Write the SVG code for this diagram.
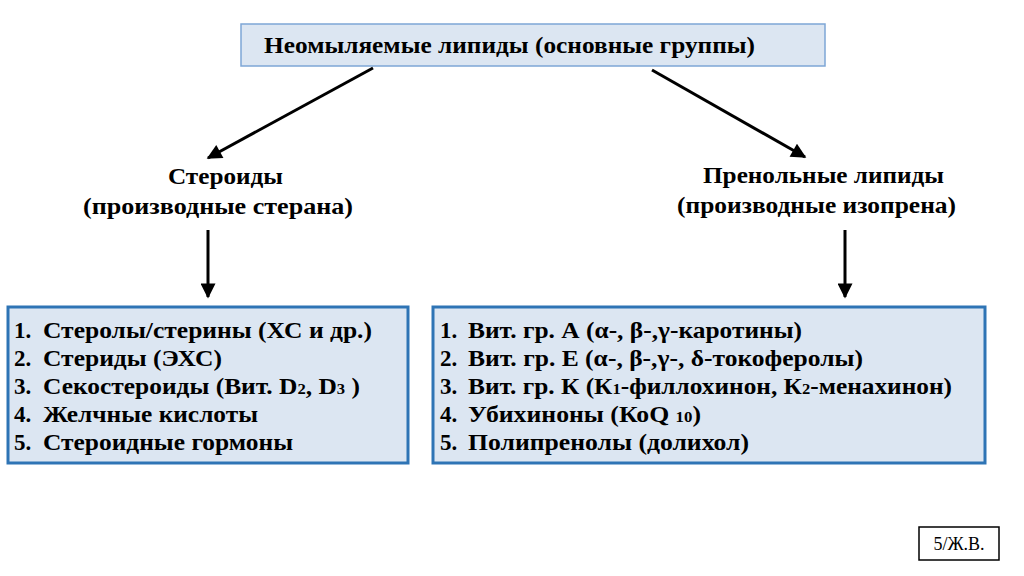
<svg xmlns="http://www.w3.org/2000/svg" width="1024" height="576" viewBox="0 0 1024 576">
<defs>
<marker id="ah" viewBox="0 0 10 10" refX="9" refY="5" markerWidth="6" markerHeight="5" markerUnits="strokeWidth" orient="auto">
<path d="M0,0 L10,5 L0,10 Z" fill="#000"/>
</marker>
</defs>
<style>
text{font-family:"Liberation Serif","Times New Roman","DejaVu Serif",serif;font-weight:bold;fill:#000}
.t{font-size:23px}
.s{font-size:15px}
.box{fill:#dce6f2;stroke:#2e74b5;stroke-width:3}
.conn line{stroke:#000;stroke-width:3;marker-end:url(#ah)}
</style>
<rect width="1024" height="576" fill="#fff"/>
<g id="root">
<rect x="241" y="24" width="584" height="42" fill="#dce6f2" stroke="#7ea6d6" stroke-width="1.5"/>
<text class="t" x="264" y="53" textLength="491" lengthAdjust="spacingAndGlyphs">Неомыляемые липиды (основные группы)</text>
</g>
<g id="steroids">
<text class="t" x="168" y="184" textLength="115" lengthAdjust="spacingAndGlyphs">Стероиды</text>
<text class="t" x="83" y="214" textLength="270" lengthAdjust="spacingAndGlyphs">(производные стерана)</text>
</g>
<g id="prenols">
<text class="t" x="703" y="183" textLength="241" lengthAdjust="spacingAndGlyphs">Пренольные липиды</text>
<text class="t" x="677" y="213" textLength="279" lengthAdjust="spacingAndGlyphs">(производные изопрена)</text>
</g>
<g id="steroid-list">
<rect class="box" x="8" y="307" width="400" height="156"/>
<text class="t" x="14" y="338">1.</text><text class="t" x="43" y="338" textLength="329" lengthAdjust="spacingAndGlyphs">Стеролы/стерины (ХС и др.)</text>
<text class="t" x="14" y="366">2.</text><text class="t" x="43" y="366" textLength="179" lengthAdjust="spacingAndGlyphs">Стериды (ЭХС)</text>
<text class="t" x="14" y="394">3.</text><text class="t" x="43" y="394" textLength="317" lengthAdjust="spacingAndGlyphs">Секостероиды (Вит. D<tspan class="s">2</tspan>, D<tspan class="s">3</tspan> )</text>
<text class="t" x="14" y="422">4.</text><text class="t" x="43" y="422" textLength="215" lengthAdjust="spacingAndGlyphs">Желчные кислоты</text>
<text class="t" x="14" y="450">5.</text><text class="t" x="43" y="450" textLength="250" lengthAdjust="spacingAndGlyphs">Стероидные гормоны</text>
</g>
<g id="prenol-list">
<rect class="box" x="433" y="307" width="552" height="156"/>
<text class="t" x="440" y="338">1.</text><text class="t" x="468" y="338" textLength="334" lengthAdjust="spacingAndGlyphs">Вит. гр. А (α-, β-,γ-каротины)</text>
<text class="t" x="440" y="366">2.</text><text class="t" x="468" y="366" textLength="395" lengthAdjust="spacingAndGlyphs">Вит. гр. Е (α-, β-,γ-, δ-токоферолы)</text>
<text class="t" x="440" y="394">3.</text><text class="t" x="468" y="394" textLength="484" lengthAdjust="spacingAndGlyphs">Вит. гр. К (К<tspan class="s">1</tspan>-филлохинон, К<tspan class="s">2</tspan>-менахинон)</text>
<text class="t" x="440" y="422">4.</text><text class="t" x="468" y="422" textLength="233" lengthAdjust="spacingAndGlyphs">Убихиноны (КоQ <tspan class="s">10</tspan>)</text>
<text class="t" x="440" y="450">5.</text><text class="t" x="468" y="450" textLength="281" lengthAdjust="spacingAndGlyphs">Полипренолы (долихол)</text>
</g>
<g id="label">
<rect x="919" y="527" width="80" height="33" fill="#fff" stroke="#000" stroke-width="1.5"/>
<text x="959" y="550" text-anchor="middle" style="font-weight:normal;font-size:18px">5/Ж.В.</text>
</g>
<g class="conn" id="connectors">
<line x1="373" y1="68" x2="208" y2="158"/>
<line x1="652" y1="70" x2="805" y2="157"/>
<line x1="208" y1="230" x2="208" y2="297"/>
<line x1="845" y1="230" x2="845" y2="297"/>
</g>
</svg>
